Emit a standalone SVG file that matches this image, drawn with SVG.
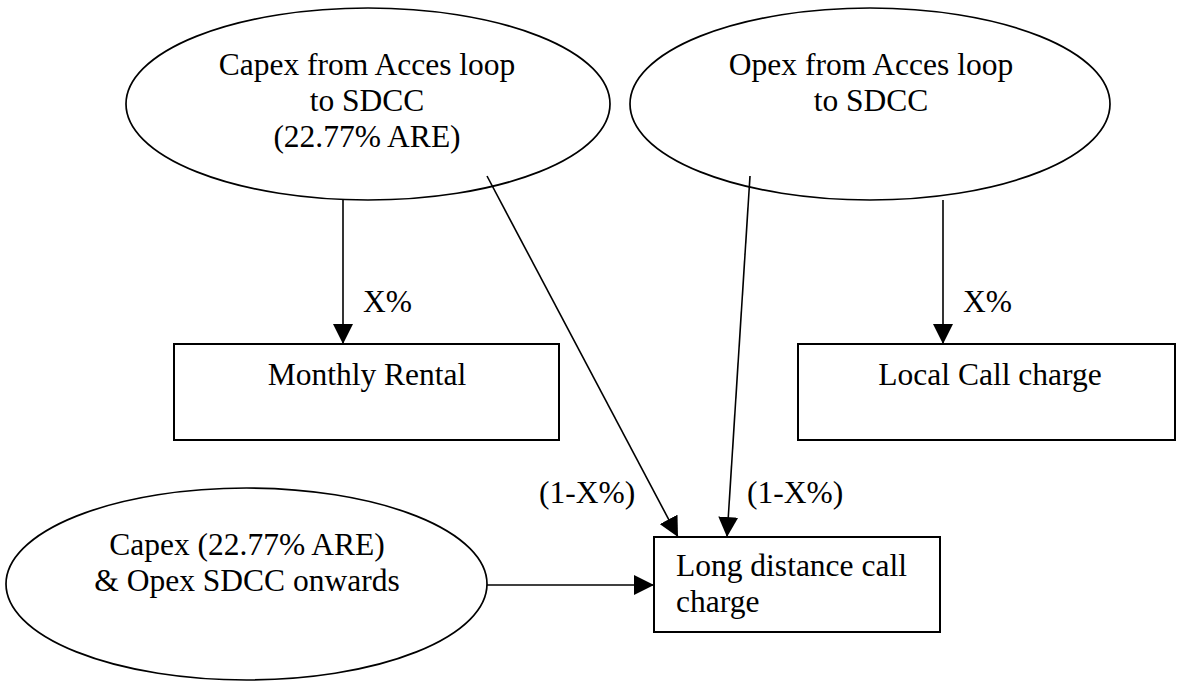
<svg xmlns="http://www.w3.org/2000/svg" width="1177" height="681" viewBox="0 0 1177 681">
<style>
  .shape { fill: #ffffff; stroke: #000000; }
  ellipse.shape { stroke-width: 1.7; }
  rect.shape { stroke-width: 2; }
  text { font-family: "Liberation Serif", "Times New Roman", serif; font-size: 31.5px; fill: #000000; }
  .c { text-anchor: middle; }
  .conn line { stroke: #000000; stroke-width: 1.6; fill: none; }
</style>
<defs>
  <marker id="arrow" markerUnits="userSpaceOnUse" markerWidth="20" markerHeight="20" viewBox="0 0 20 20" refX="20" refY="10" orient="auto">
    <path d="M0,0 L20,10 L0,20 Z" fill="#000000"/>
  </marker>
</defs>
<rect x="0" y="0" width="1177" height="681" fill="#ffffff"/>

<g id="node-capex-access">
  <ellipse class="shape" cx="368" cy="104" rx="242" ry="96"/>
  <text class="c" x="367" y="75">Capex from Acces loop</text>
  <text class="c" x="367" y="111">to SDCC</text>
  <text class="c" x="367" y="147">(22.77% ARE)</text>
</g>

<g id="node-opex-access">
  <ellipse class="shape" cx="870" cy="104" rx="240" ry="96"/>
  <text class="c" x="871" y="75">Opex from Acces loop</text>
  <text class="c" x="871" y="111">to SDCC</text>
</g>

<g id="node-capex-sdcc">
  <ellipse class="shape" cx="246.5" cy="584" rx="240.5" ry="96"/>
  <text class="c" x="247" y="555">Capex (22.77% ARE)</text>
  <text class="c" x="247" y="591">&amp; Opex SDCC onwards</text>
</g>

<g id="node-monthly-rental">
  <rect class="shape" x="174" y="344" width="385" height="96"/>
  <text class="c" x="367" y="385">Monthly Rental</text>
</g>

<g id="node-local-call">
  <rect class="shape" x="798" y="344" width="377" height="96"/>
  <text class="c" x="990" y="385">Local Call charge</text>
</g>

<g id="node-long-distance">
  <rect class="shape" x="654" y="537" width="286" height="95"/>
  <text x="676" y="576">Long distance call</text>
  <text x="676" y="612">charge</text>
</g>

<g id="connectors" class="conn">
  <line x1="343" y1="200" x2="343" y2="344" marker-end="url(#arrow)"/>
  <line x1="943" y1="200" x2="943" y2="344" marker-end="url(#arrow)"/>
  <line x1="487" y1="176" x2="678" y2="537" marker-end="url(#arrow)"/>
  <line x1="750" y1="176" x2="727" y2="537" marker-end="url(#arrow)"/>
  <line x1="487" y1="585" x2="654" y2="585" marker-end="url(#arrow)"/>
</g>

<g id="labels">
  <text x="363" y="312">X%</text>
  <text x="963" y="312">X%</text>
  <text x="539" y="503">(1-X%)</text>
  <text x="747" y="503">(1-X%)</text>
</g>
</svg>
